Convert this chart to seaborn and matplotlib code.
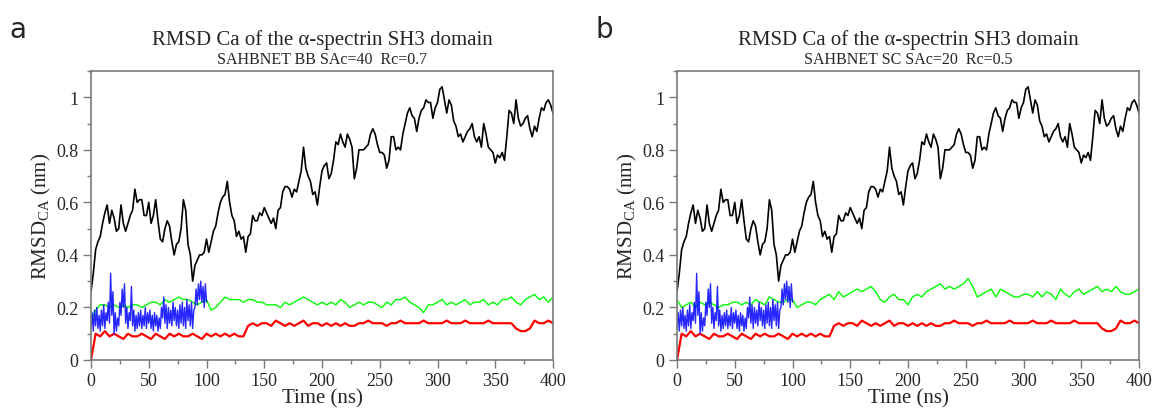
import numpy as np
import pandas as pd
import matplotlib
matplotlib.use("Agg")
import matplotlib.pyplot as plt
import seaborn as sns
from matplotlib.ticker import MultipleLocator, FuncFormatter

# time axes (ns)
t_black = np.arange(0, 401, 2)
t_line = np.arange(0, 401, 4)
t_blue = np.arange(0, 101, 1)

# RMSD of the SH3 domain (black), read every 2 ns
rmsd_black = [
    0.26, 0.33, 0.42, 0.45, 0.47, 0.52, 0.56, 0.59, 0.52, 0.57,
    0.54, 0.49, 0.50, 0.59, 0.52, 0.49, 0.52, 0.55, 0.57, 0.65,
    0.60, 0.61, 0.61, 0.55, 0.55, 0.60, 0.52, 0.55, 0.61, 0.53,
    0.46, 0.45, 0.50, 0.53, 0.51, 0.45, 0.40, 0.44, 0.45, 0.50,
    0.61, 0.57, 0.44, 0.40, 0.30, 0.36, 0.38, 0.40, 0.40, 0.41,
    0.46, 0.41, 0.45, 0.49, 0.51, 0.56, 0.60, 0.62, 0.63, 0.68,
    0.60, 0.55, 0.53, 0.47, 0.49, 0.46, 0.47, 0.41, 0.47, 0.48,
    0.55, 0.53, 0.53, 0.56, 0.55, 0.58, 0.56, 0.54, 0.52, 0.54,
    0.50, 0.57, 0.58, 0.64, 0.66, 0.66, 0.65, 0.62, 0.65, 0.64,
    0.68, 0.72, 0.81, 0.73, 0.70, 0.68, 0.63, 0.64, 0.59, 0.66,
    0.72, 0.74, 0.75, 0.69, 0.71, 0.76, 0.83, 0.82, 0.86, 0.83,
    0.81, 0.86, 0.84, 0.81, 0.69, 0.73, 0.80, 0.80, 0.80, 0.81,
    0.82, 0.86, 0.88, 0.86, 0.82, 0.79, 0.79, 0.78, 0.73, 0.76,
    0.85, 0.85, 0.80, 0.81, 0.80, 0.86, 0.90, 0.94, 0.96, 0.93,
    0.92, 0.87, 0.92, 0.95, 0.96, 0.99, 0.98, 0.98, 0.92, 0.96,
    0.98, 1.03, 1.04, 0.99, 0.94, 0.99, 0.97, 0.91, 0.89, 0.85,
    0.86, 0.83, 0.85, 0.87, 0.88, 0.90, 0.85, 0.83, 0.85, 0.81,
    0.90, 0.86, 0.81, 0.80, 0.79, 0.75, 0.78, 0.77, 0.79, 0.76,
    0.85, 0.95, 0.94, 0.90, 0.99, 0.92, 0.89, 0.90, 0.92, 0.93,
    0.88, 0.85, 0.89, 0.87, 0.92, 0.96, 0.95, 0.98, 0.99, 0.97,
    0.94,
]

# red, every 4 ns
rmsd_red = [
    0.00, 0.10, 0.09, 0.11, 0.09, 0.10, 0.09, 0.08, 0.10, 0.09,
    0.09, 0.10, 0.09, 0.08, 0.10, 0.09, 0.08, 0.10, 0.09, 0.10,
    0.09, 0.09, 0.10, 0.09, 0.08, 0.10, 0.09, 0.10, 0.09, 0.10,
    0.09, 0.10, 0.09, 0.09, 0.13, 0.14, 0.13, 0.14, 0.14, 0.13,
    0.15, 0.14, 0.13, 0.14, 0.13, 0.14, 0.15, 0.13, 0.14, 0.14,
    0.13, 0.14, 0.13, 0.14, 0.13, 0.14, 0.13, 0.13, 0.14, 0.14,
    0.15, 0.14, 0.14, 0.14, 0.13, 0.14, 0.14, 0.15, 0.14, 0.14,
    0.14, 0.14, 0.15, 0.14, 0.14, 0.14, 0.14, 0.15, 0.14, 0.14,
    0.14, 0.15, 0.14, 0.14, 0.14, 0.14, 0.15, 0.14, 0.14, 0.14,
    0.14, 0.14, 0.12, 0.11, 0.11, 0.12, 0.15, 0.14, 0.14, 0.15,
    0.14,
]

# green, every 4 ns (panel a and panel b)
green_a = [
    0.15, 0.19, 0.21, 0.21, 0.20, 0.21, 0.20, 0.21, 0.20, 0.21,
    0.21, 0.20, 0.21, 0.22, 0.22, 0.21, 0.23, 0.22, 0.23, 0.24,
    0.23, 0.23, 0.22, 0.21, 0.22, 0.23, 0.19, 0.20, 0.22, 0.24,
    0.23, 0.23, 0.23, 0.22, 0.23, 0.23, 0.22, 0.22, 0.21, 0.21,
    0.21, 0.20, 0.22, 0.21, 0.22, 0.23, 0.24, 0.23, 0.22, 0.21,
    0.22, 0.21, 0.22, 0.21, 0.23, 0.22, 0.20, 0.21, 0.22, 0.21,
    0.22, 0.22, 0.21, 0.20, 0.22, 0.21, 0.23, 0.23, 0.24, 0.22,
    0.21, 0.20, 0.18, 0.21, 0.21, 0.22, 0.23, 0.21, 0.22, 0.21,
    0.22, 0.23, 0.21, 0.22, 0.22, 0.23, 0.21, 0.22, 0.21, 0.23,
    0.23, 0.24, 0.22, 0.21, 0.23, 0.24, 0.25, 0.23, 0.24, 0.22,
    0.24,
]
green_b = [
    0.23, 0.20, 0.21, 0.22, 0.20, 0.22, 0.21, 0.22, 0.21, 0.20,
    0.21, 0.21, 0.22, 0.22, 0.21, 0.22, 0.21, 0.23, 0.22, 0.21,
    0.24, 0.23, 0.22, 0.22, 0.23, 0.23, 0.20, 0.21, 0.22, 0.22,
    0.21, 0.23, 0.24, 0.25, 0.23, 0.26, 0.24, 0.25, 0.26, 0.27,
    0.26, 0.27, 0.28, 0.26, 0.23, 0.22, 0.24, 0.25, 0.23, 0.23,
    0.21, 0.24, 0.25, 0.24, 0.26, 0.27, 0.28, 0.29, 0.27, 0.28,
    0.27, 0.28, 0.29, 0.31, 0.28, 0.24, 0.25, 0.26, 0.27, 0.24,
    0.27, 0.26, 0.25, 0.24, 0.24, 0.25, 0.25, 0.24, 0.26, 0.24,
    0.26, 0.25, 0.23, 0.27, 0.25, 0.24, 0.26, 0.27, 0.25, 0.26,
    0.27, 0.28, 0.26, 0.27, 0.26, 0.28, 0.26, 0.25, 0.25, 0.26,
    0.27,
]

# blue, every 1 ns for the first 100 ns
rmsd_blue = [
    0.12, 0.18, 0.11, 0.19, 0.13, 0.20, 0.12, 0.17, 0.11, 0.19,
    0.13, 0.21, 0.12, 0.18, 0.15, 0.22, 0.14, 0.33, 0.17, 0.26,
    0.10, 0.18, 0.11, 0.16, 0.13, 0.22, 0.17, 0.27, 0.20, 0.29,
    0.14, 0.20, 0.12, 0.18, 0.15, 0.28, 0.13, 0.19, 0.11, 0.17,
    0.12, 0.18, 0.13, 0.19, 0.12, 0.17, 0.13, 0.20, 0.12, 0.18,
    0.14, 0.19, 0.12, 0.17, 0.11, 0.18, 0.13, 0.17, 0.11, 0.16,
    0.12, 0.20, 0.16, 0.24, 0.14, 0.21, 0.12, 0.20, 0.14, 0.19,
    0.13, 0.22, 0.15, 0.20, 0.13, 0.19, 0.12, 0.21, 0.14, 0.22,
    0.13, 0.20, 0.12, 0.23, 0.15, 0.21, 0.13, 0.22, 0.12, 0.19,
    0.20, 0.27, 0.21, 0.29, 0.23, 0.30, 0.22, 0.28, 0.20, 0.29,
    0.22,
]

panel_letters = ["a", "b"]
subtitles = ["SAHBNET BB SAc=40  Rc=0.7", "SAHBNET SC SAc=20  Rc=0.5"]
greens = [green_a, green_b]

sns.set_style("ticks")
plt.rcParams["font.family"] = ["Liberation Serif", "DejaVu Serif"]
plt.rcParams["mathtext.fontset"] = "custom"
plt.rcParams["mathtext.rm"] = "Liberation Serif"

fig = plt.figure(figsize=(11.58, 4.10), dpi=100)
frame = "#7a7a7a"
lefts = [91 / 1158, 677 / 1158]

for i in range(2):
    ax = fig.add_axes([lefts[i], 49 / 410, 462 / 1158, 289 / 410])

    sns.lineplot(x=t_black, y=rmsd_black, ax=ax, color="black", lw=1.2, estimator=None)
    sns.lineplot(x=t_line, y=greens[i], ax=ax, color="#00ff00", lw=1.0, estimator=None)
    sns.lineplot(x=t_line, y=rmsd_red, ax=ax, color="#ff0000", lw=1.6, estimator=None)
    sns.lineplot(x=t_blue, y=rmsd_blue, ax=ax, color="#0000ff", lw=1.0, alpha=0.85, estimator=None)

    ax.set_xlim(0, 400)
    ax.set_ylim(0, 1.1)
    ax.xaxis.set_major_locator(MultipleLocator(50))
    ax.xaxis.set_minor_locator(MultipleLocator(25))
    ax.yaxis.set_major_locator(MultipleLocator(0.2))
    ax.yaxis.set_minor_locator(MultipleLocator(0.1))
    ax.yaxis.set_major_formatter(FuncFormatter(lambda v, p: f"{v:g}"))
    ax.tick_params(which="major", length=6, width=1, color=frame, labelsize=13, pad=3)
    ax.tick_params(which="minor", length=3, width=1, color=frame)
    for s in ax.spines.values():
        s.set_color(frame)
        s.set_linewidth(1.2)

    ax.set_xlabel("Time (ns)", fontsize=15, labelpad=-1)
    ax.set_ylabel(r"RMSD$_{\mathrm{CA}}$ (nm)", fontsize=15, labelpad=2)

    cx = lefts[i] + 231 / 1158
    fig.text(cx, 1 - 40 / 410, "RMSD Ca of the \u03b1-spectrin SH3 domain",
             ha="center", va="center", fontsize=15)
    fig.text(cx, 1 - 60 / 410, subtitles[i], ha="center", va="center", fontsize=11.5)
    fig.text([18 / 1158, 604 / 1158][i], 1 - 30 / 410, panel_letters[i],
             ha="center", va="center", fontsize=20, family=["DejaVu Sans"])

fig.savefig("out.png", dpi=100)
